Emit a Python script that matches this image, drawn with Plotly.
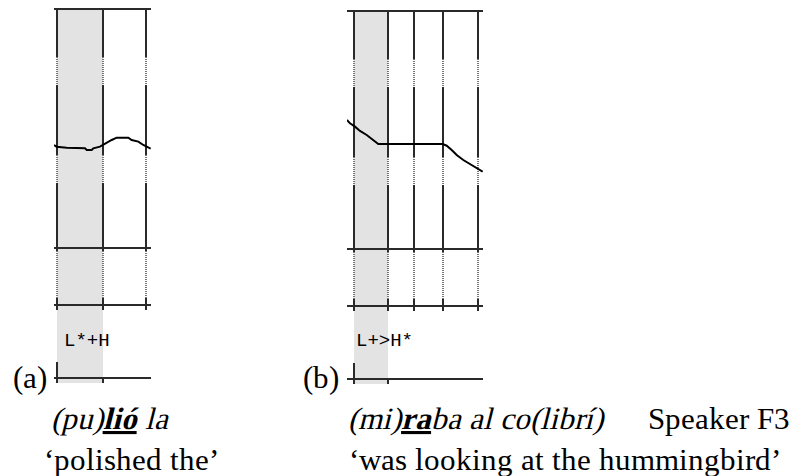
import plotly.graph_objects as go

W, H = 793, 476

# ---- Panel (a): "(pu)lió la" ----
a_time = [0.0, 0.0135, 0.0635, 0.155, 0.1635, 0.1885, 0.1965, 0.23, 0.245,
          0.2635, 0.2885, 0.3135, 0.3715, 0.3885, 0.4215, 0.4465, 0.4635, 0.4835]
a_f0 = [186.2, 184.8, 183.9, 183.4, 182.0, 182.0, 183.4, 184.8, 186.2,
        188.1, 190.4, 192.3, 192.3, 190.4, 189.0, 186.2, 184.8, 183.1]
a_bounds = [0.015, 0.245, 0.46]          # syllable boundaries (s)
a_tmax = 0.485
a_tone = "L*+H"

# ---- Panel (b): "(mi)raba al co(librí)" ----
b_time = [0.0, 0.015, 0.04, 0.065, 0.0985, 0.1315, 0.1565, 0.4785, 0.4985,
          0.5235, 0.5485, 0.5815, 0.615, 0.6485, 0.6785]
b_f0 = [208.4, 205.6, 202.8, 199.2, 195.8, 191.6, 188.2, 188.2, 186.8,
        183.2, 179.0, 174.8, 171.4, 168.7, 165.0]
b_bounds = [0.035, 0.205, 0.335, 0.48, 0.655]
b_tmax = 0.68
b_tone = "L+>H*"

f0_range = [100, 300]

# A serif family built from the installed upright faces only, so that
# italic requests are slanted versions of the same serif design.
SERIF = "SerifSlant, Liberation Serif"
MONO = "Liberation Mono"
LINE = "#2a2a2a"

FONT_JS = """
var st = document.createElement('style');
st.textContent = "@font-face{font-family:'SerifSlant';src:local('Liberation Serif'),local('LiberationSerif');font-weight:400;font-style:normal;}" +
                 "@font-face{font-family:'SerifSlant';src:local('Liberation Serif Bold'),local('LiberationSerif-Bold');font-weight:700;font-style:normal;}";
document.head.appendChild(st);
"""


def py(px):
    """pixel row -> paper fraction"""
    return 1 - px / H


def panel_shapes(xref, bounds, tmax, top, t1, t2, bot):
    shapes = []
    # stressed syllable shading (first interval)
    shapes.append(dict(type="rect", xref=xref, yref="paper",
                       x0=bounds[0], x1=bounds[1], y0=py(bot + 5), y1=py(top),
                       fillcolor="#e3e3e3", line=dict(width=0), layer="below"))
    # tier lines
    for yy in (top, t1, t2, bot):
        shapes.append(dict(type="line", xref=xref, yref="paper",
                           x0=0, x1=tmax, y0=py(yy), y1=py(yy),
                           line=dict(color=LINE, width=2), layer="below"))
    # boundary lines through the pitch pane and word tier
    solid = [(top, top + 48), (top + 76, top + 146), (top + 174, t1 + 3),
             (t2 - 7, t2 + 5)]
    dotted = [(top + 48, top + 76), (top + 146, top + 174), (t1 + 3, t2 - 7)]
    for b in bounds:
        for y0, y1 in solid:
            shapes.append(dict(type="line", xref=xref, yref="paper",
                               x0=b, x1=b, y0=py(y0), y1=py(y1),
                               line=dict(color=LINE, width=2), layer="below"))
        for y0, y1 in dotted:
            shapes.append(dict(type="line", xref=xref, yref="paper",
                               x0=b, x1=b, y0=py(y0), y1=py(y1),
                               line=dict(color="#777", width=2, dash="1px,1px"),
                               layer="below"))
    # tone tier marks
    shapes.append(dict(type="line", xref=xref, yref="paper",
                       x0=bounds[0], x1=bounds[0], y0=py(bot - 16), y1=py(bot + 5),
                       line=dict(color=LINE, width=2), layer="below"))
    shapes.append(dict(type="line", xref=xref, yref="paper",
                       x0=bounds[1], x1=bounds[1], y0=py(bot), y1=py(bot + 5),
                       line=dict(color=LINE, width=2), layer="below"))
    return shapes


fig = go.Figure()
fig.add_trace(go.Scatter(x=a_time, y=a_f0, mode="lines", xaxis="x", yaxis="y",
                         line=dict(color="black", width=2), hoverinfo="skip",
                         showlegend=False))
fig.add_trace(go.Scatter(x=b_time, y=b_f0, mode="lines", xaxis="x2", yaxis="y2",
                         line=dict(color="black", width=2), hoverinfo="skip",
                         showlegend=False))

shapes = panel_shapes("x", a_bounds, a_tmax, 9, 248, 305, 378)
shapes += panel_shapes("x2", b_bounds, b_tmax, 11, 249, 306, 379)

ax = dict(visible=False, showgrid=False, zeroline=False, fixedrange=True)
fig.update_layout(
    width=W, height=H, margin=dict(l=0, r=0, t=0, b=0),
    paper_bgcolor="white", plot_bgcolor="rgba(0,0,0,0)",
    xaxis=dict(ax, domain=[54 / W, 151 / W], range=[0, a_tmax]),
    yaxis=dict(ax, domain=[py(248), py(9)], range=f0_range),
    xaxis2=dict(ax, domain=[347 / W, 483 / W], range=[0, b_tmax], anchor="y2"),
    yaxis2=dict(ax, domain=[py(249), py(11)], range=f0_range, anchor="x2"),
    shapes=shapes,
    showlegend=False,
)


def note(text, x, y, font, size, style="normal"):
    fig.add_annotation(text=text, x=x / W, y=py(y), xref="paper", yref="paper",
                       xanchor="left", yanchor="middle", showarrow=False,
                       font=dict(family=font, size=size, color="black",
                                 style=style))


# tone labels
note(a_tone, 62, 341, MONO, 19)
note(b_tone, 354, 341, MONO, 19)

# panel letters
note("(a)", 11, 377, SERIF, 31)
note("(b)", 301, 377, SERIF, 31)

# glosses
note("(pu)<b><u>lió</u></b> la", 49, 418, SERIF, 31, "italic")
note("‘polished the’", 44, 459, SERIF, 31)
note("(mi)<b><u>ra</u></b>ba al co(librí)", 347, 418, SERIF, 31, "italic")
note("Speaker F3", 647, 418, SERIF, 31)
note("‘was looking at the hummingbird’", 351, 459, SERIF, 31)

fig.write_html("out.html", post_script=FONT_JS)
